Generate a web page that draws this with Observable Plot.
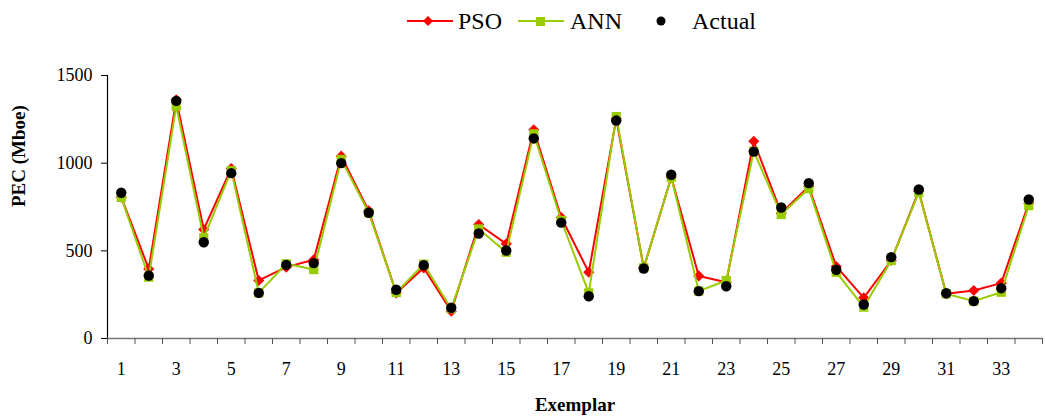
<!DOCTYPE html>
<html>
<head>
<meta charset="utf-8">
<script src="https://cdn.jsdelivr.net/npm/d3@7"></script>
<script src="https://cdn.jsdelivr.net/npm/@observablehq/plot@0.6"></script>
<style>
  body { margin: 0; background: #fff; font-family: "Liberation Serif", "Times New Roman", Times, "DejaVu Serif", serif; }
  #legend { position: relative; width: 1045px; height: 40px; }
  #legend .item { position: absolute; top: 6px; font-size: 24px; line-height: 30px; color: #000; }
  #legend svg { position: absolute; top: 6px; }
</style>
</head>
<body>
<div id="legend"></div>
<div id="chart"></div>
<script>
// ---- data ----
const exemplars = [1,2,3,4,5,6,7,8,9,10,11,12,13,14,15,16,17,18,19,20,21,22,23,24,25,26,27,28,29,30,31,32,33,34];
const pso    = [806,397,1361,622,970,331,407,449,1040,728,260,403,156,650,540,1190,690,378,1253,403,920,357,321,1125,715,867,411,232,445,840,255,274,316,772];
const ann    = [805,350,1325,574,958,260,426,393,1021,717,262,424,170,625,492,1167,673,260,1266,403,920,270,331,1068,707,855,378,179,445,834,255,213,264,758];
const actual = [831,359,1355,549,943,260,420,430,1000,717,278,418,175,599,502,1141,661,241,1243,399,934,270,298,1066,747,886,392,194,464,850,258,213,287,793];
const yTicks = [0,500,1000,1500];
const xLabels = [1,3,5,7,9,11,13,15,17,19,21,23,25,27,29,31,33];
const seriesNames = ["PSO","ANN","Actual"];
const colors = {PSO:"#FF0000", ANN:"#99CC00", Actual:"#000000"};

const rows = (vals, s) => exemplars.map((x, i) => ({x, v: vals[i], s}));
const psoRows = rows(pso, "PSO");
const annRows = rows(ann, "ANN");
const actRows = rows(actual, "Actual");
const boundaries = [0, ...exemplars].map(d => d + 0.5);
const serif = '"Liberation Serif", "Times New Roman", Times, "DejaVu Serif", serif';

// ---- legend ----
const legend = document.getElementById("legend");
legend.innerHTML = `
  <svg width="50" height="30" style="left:405px"><line x1="2" x2="48" y1="15" y2="15" stroke="${colors.PSO}" stroke-width="2"/><path d="M23,10 L28,15 L23,20 L18,15Z" fill="${colors.PSO}"/></svg>
  <span class="item" style="left:458px">${seriesNames[0]}</span>
  <svg width="50" height="30" style="left:516px"><line x1="2" x2="48" y1="15" y2="15" stroke="${colors.ANN}" stroke-width="2"/><rect x="20" y="11" width="9" height="9" fill="${colors.ANN}"/></svg>
  <span class="item" style="left:570px">${seriesNames[1]}</span>
  <svg width="20" height="30" style="left:651px"><circle cx="10" cy="15" r="4.5" fill="#000"/></svg>
  <span class="item" style="left:692px">${seriesNames[2]}</span>`;

// ---- chart ----
const chart = Plot.plot({
  width: 1045,
  height: 379,
  marginTop: 35,
  marginBottom: 81,
  marginLeft: 107,
  marginRight: 3,
  x: {type: "linear", domain: [0.5, 34.5]},
  y: {domain: [0, 1500]},
  style: {fontFamily: serif, fontSize: "18px", color: "#000", background: "#fff", overflow: "visible"},
  marks: [
    Plot.axisY({ticks: yTicks, tickSize: 6, tickPadding: 9, label: null, tickFormat: d => String(d), stroke: "#000"}),
    Plot.ruleX([0.5], {y1: 0, y2: 1500, stroke: "#000", strokeWidth: 1.2}),
    Plot.ruleY([0], {stroke: "#777", strokeWidth: 1.5}),
    Plot.axisX({ticks: boundaries, tickSize: 6, tickFormat: () => "", label: null, stroke: "#555"}),
    Plot.axisX({ticks: xLabels, tickSize: 0, tickPadding: 24, label: null, tickFormat: d => String(d)}),
    Plot.lineY(psoRows, {x: "x", y: "v", stroke: colors.PSO, strokeWidth: 2}),
    Plot.dot(psoRows, {x: "x", y: "v", symbol: "diamond2", r: 5, fill: colors.PSO, stroke: null}),
    Plot.lineY(annRows, {x: "x", y: "v", stroke: colors.ANN, strokeWidth: 2}),
    Plot.dot(annRows, {x: "x", y: "v", symbol: "square", r: 5.2, fill: colors.ANN, stroke: null}),
    Plot.dot(actRows, {x: "x", y: "v", r: 5.2, fill: colors.Actual, stroke: null}),
    Plot.text(["PEC (Mboe)"], {frameAnchor: "left", text: d => d, rotate: -90, dx: -89, fontWeight: "bold", fontSize: 19}),
    Plot.text(["Exemplar"], {frameAnchor: "bottom", text: d => d, dy: 72, fontWeight: "bold", fontSize: 19})
  ]
});
document.getElementById("chart").appendChild(chart);
</script>
</body>
</html>
